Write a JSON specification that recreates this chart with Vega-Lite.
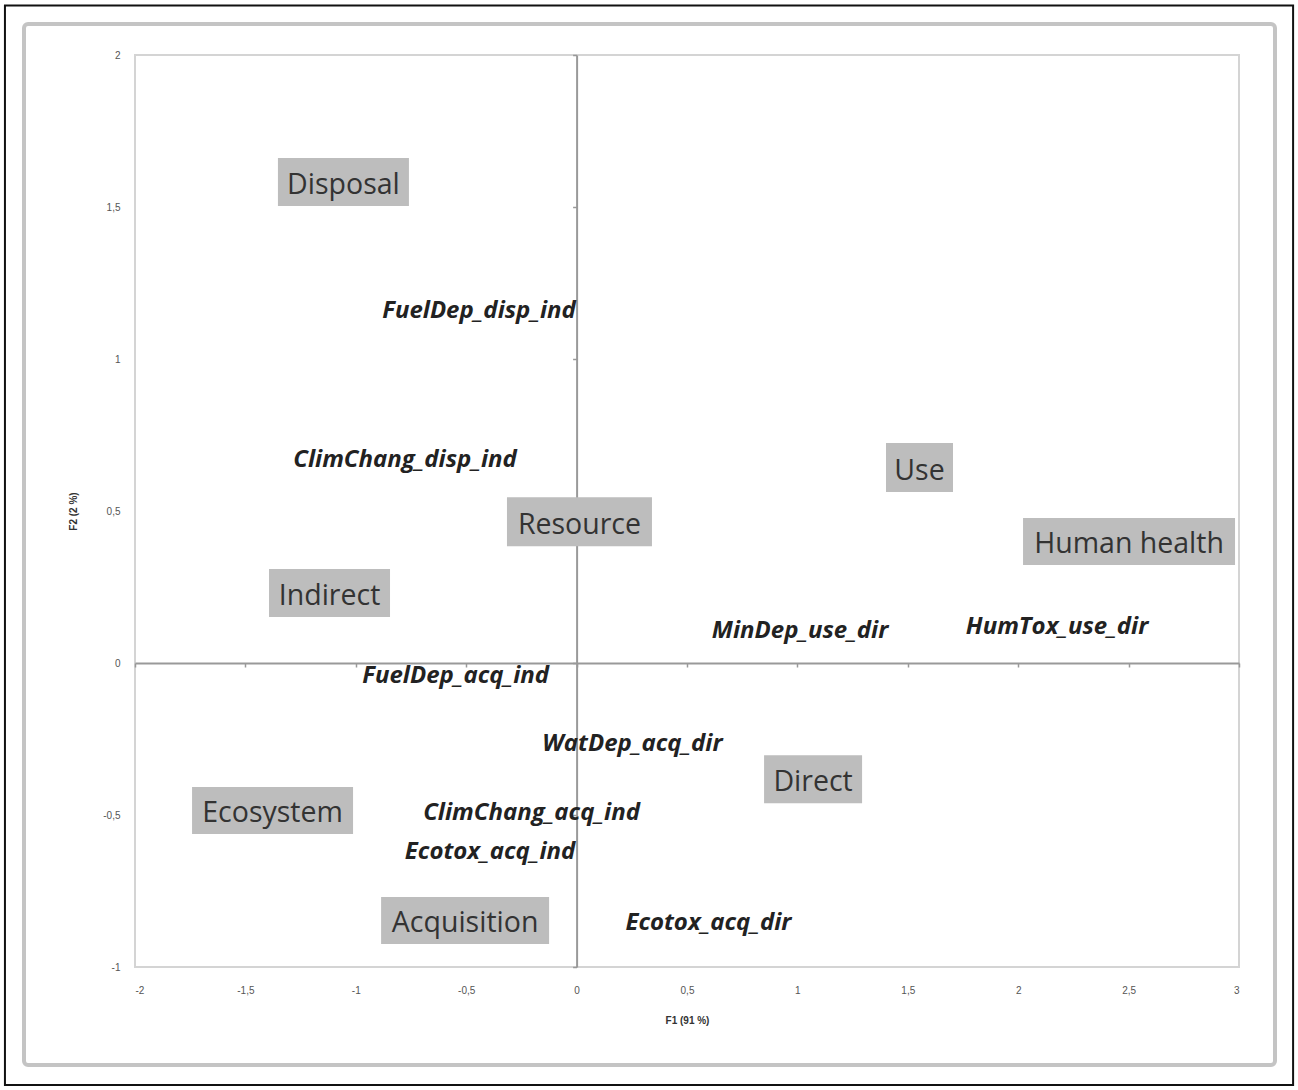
{
  "$schema": "https://vega.github.io/schema/vega-lite/v6.json",
  "width": 1104,
  "height": 912,
  "autosize": {"type": "none"},
  "padding": {"left": 135, "top": 55, "right": 59, "bottom": 123},
  "background": "white",
  "config": {
    "view": {"stroke": "#d4d4d4", "strokeWidth": 2},
    "axis": {
      "grid": false,
      "labelFont": "Liberation Sans",
      "labelFontSize": 10,
      "labelColor": "#555555",
      "titleFont": "Liberation Sans",
      "titleFontSize": 10,
      "titleColor": "#333333",
      "titleFontWeight": "bold"
    }
  },
  "data": {
    "values": [
      {"label": "Disposal", "x": -1.056, "y": 1.582, "kind": "group"},
      {"label": "Resource", "x": 0.013, "y": 0.465, "kind": "group"},
      {"label": "Indirect", "x": -1.119, "y": 0.23, "kind": "group"},
      {"label": "Use", "x": 1.553, "y": 0.643, "kind": "group"},
      {"label": "Human health", "x": 2.502, "y": 0.4, "kind": "group"},
      {"label": "Direct", "x": 1.071, "y": -0.382, "kind": "group"},
      {"label": "Ecosystem", "x": -1.377, "y": -0.485, "kind": "group"},
      {"label": "Acquisition", "x": -0.505, "y": -0.847, "kind": "group"},
      {"label": "FuelDep_disp_ind", "x": -0.442, "y": 1.158, "kind": "variable"},
      {"label": "ClimChang_disp_ind", "x": -0.777, "y": 0.668, "kind": "variable"},
      {"label": "MinDep_use_dir", "x": 1.012, "y": 0.105, "kind": "variable"},
      {"label": "HumTox_use_dir", "x": 2.176, "y": 0.118, "kind": "variable"},
      {"label": "FuelDep_acq_ind", "x": -0.548, "y": -0.043, "kind": "variable"},
      {"label": "WatDep_acq_dir", "x": 0.253, "y": -0.266, "kind": "variable"},
      {"label": "ClimChang_acq_ind", "x": -0.204, "y": -0.493, "kind": "variable"},
      {"label": "Ecotox_acq_ind", "x": -0.392, "y": -0.622, "kind": "variable"},
      {"label": "Ecotox_acq_dir", "x": 0.597, "y": -0.855, "kind": "variable"}
    ]
  },
  "layer": [
    {
      "data": {"values": [{"frame": "outer"}]},
      "mark": {"type": "rect", "filled": false, "stroke": "#111111", "strokeWidth": 2},
      "encoding": {
        "x": {"datum": -2.589, "type": "quantitative", "scale": {"domain": [-2, 3], "nice": false, "zero": false}, "axis": null},
        "x2": {"datum": 3.245},
        "y": {"datum": 2.163, "type": "quantitative", "scale": {"domain": [-1, 2], "nice": false, "zero": false}, "axis": null},
        "y2": {"datum": -1.388}
      }
    },
    {
      "data": {"values": [{"frame": "inner"}]},
      "mark": {"type": "rect", "filled": false, "stroke": "#c4c4c4", "strokeWidth": 4, "cornerRadius": 4},
      "encoding": {
        "x": {"datum": -2.5027, "type": "quantitative", "scale": {"domain": [-2, 3], "nice": false, "zero": false}, "axis": null},
        "x2": {"datum": 3.163},
        "y": {"datum": 2.102, "type": "quantitative", "scale": {"domain": [-1, 2], "nice": false, "zero": false}, "axis": null},
        "y2": {"datum": -1.322}
      }
    },
    {
      "transform": [{"filter": "datum.kind === 'group'"}],
      "mark": {"type": "point", "filled": true, "size": 4, "color": "#bdbdbd", "opacity": 1, "strokeWidth": 0},
      "encoding": {
        "x": {
          "field": "x", "type": "quantitative",
          "scale": {"domain": [-2, 3], "nice": false, "zero": false},
          "axis": {
            "orient": "bottom",
            "values": [-2, -1.5, -1, -0.5, 0, 0.5, 1, 1.5, 2, 2.5, 3],
            "ticks": false, "domain": false, "labelPadding": 18,
            "title": "F1 (91 %)", "titlePadding": 20,
            "labelExpr": "replace(replace(format(datum.value, '.1~f'), '.', ','), '\u2212', '-')"
          }
        },
        "y": {
          "field": "y", "type": "quantitative",
          "scale": {"domain": [-1, 2], "nice": false, "zero": false},
          "axis": {
            "orient": "left",
            "values": [-1, -0.5, 0, 0.5, 1, 1.5, 2],
            "ticks": false, "domain": false, "labelPadding": 15,
            "title": "F2 (2 %)", "titlePadding": 24,
            "labelExpr": "replace(replace(format(datum.value, '.1~f'), '.', ','), '\u2212', '-')"
          }
        },
        "shape": {
          "field": "label", "type": "nominal", "legend": null,
          "scale": {
            "domain": ["Disposal", "Resource", "Indirect", "Use", "Human health", "Direct", "Ecosystem", "Acquisition"],
            "range": [
              "M-65.5,-24H65.5V24H-65.5Z",
              "M-72.5,-24.5H72.5V24.5H-72.5Z",
              "M-60.5,-24H60.5V24H-60.5Z",
              "M-33.5,-24.5H33.5V24.5H-33.5Z",
              "M-106,-23.5H106V23.5H-106Z",
              "M-49,-24H49V24H-49Z",
              "M-80.5,-23.5H80.5V23.5H-80.5Z",
              "M-84,-23.5H84V23.5H-84Z"
            ]
          }
        }
      }
    },
    {
      "transform": [{"filter": "datum.kind === 'group'"}],
      "mark": {"type": "text", "font": "Open Sans", "fontSize": 28.5, "color": "#333333", "align": "center", "baseline": "middle", "dy": 3},
      "encoding": {
        "x": {"field": "x", "type": "quantitative", "scale": {"domain": [-2, 3], "nice": false, "zero": false}, "axis": null},
        "y": {"field": "y", "type": "quantitative", "scale": {"domain": [-1, 2], "nice": false, "zero": false}, "axis": null},
        "text": {"field": "label", "type": "nominal"}
      }
    },
    {
      "transform": [{"filter": "datum.kind === 'variable'"}],
      "mark": {"type": "text", "font": "Open Sans", "fontSize": 24, "fontStyle": "italic", "fontWeight": "bold", "color": "#222222", "align": "center", "baseline": "middle"},
      "encoding": {
        "x": {
          "field": "x", "type": "quantitative",
          "scale": {"domain": [-2, 3], "nice": false, "zero": false},
          "axis": {
            "orient": "bottom", "offset": -304,
            "values": [-2, -1.5, -1, -0.5, 0, 0.5, 1, 1.5, 2, 2.5, 3],
            "labels": false, "title": null,
            "ticks": true, "tickSize": 4, "tickColor": "#999999", "tickWidth": 1.5,
            "domain": true, "domainColor": "#999999", "domainWidth": 2
          }
        },
        "y": {
          "field": "y", "type": "quantitative",
          "scale": {"domain": [-1, 2], "nice": false, "zero": false},
          "axis": {
            "orient": "left", "offset": -441.6,
            "values": [-1, -0.5, 0, 0.5, 1, 1.5, 2],
            "labels": false, "title": null,
            "ticks": true, "tickSize": 4, "tickColor": "#999999", "tickWidth": 1.5,
            "domain": true, "domainColor": "#999999", "domainWidth": 2
          }
        },
        "text": {"field": "label", "type": "nominal"}
      }
    }
  ],
  "resolve": {"axis": {"x": "independent", "y": "independent"}}
}
